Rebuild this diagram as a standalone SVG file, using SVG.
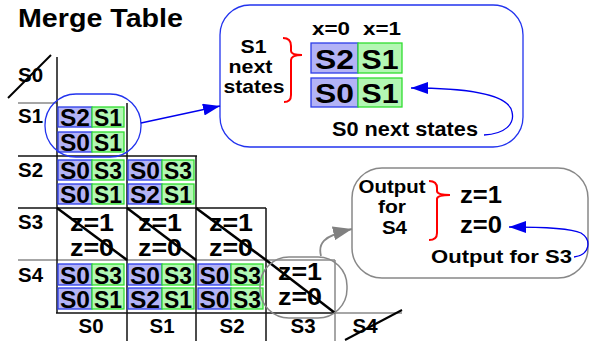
<svg xmlns="http://www.w3.org/2000/svg" width="589" height="341" viewBox="0 0 589 341">
<style>
.t{font-family:"Liberation Sans",Arial,sans-serif;font-weight:bold;fill:#000}
.m{text-anchor:middle}
.c{font-size:23px;text-anchor:middle}
.bc{fill:#b3b3f6;stroke:#2b3de8;stroke-width:1.3}
.gc{fill:#b3f7b3;stroke:#30dd30;stroke-width:1.3}
.gk{stroke:#111;stroke-width:1.5;fill:none}
.gg{stroke:#888;stroke-width:1.5;fill:none}
.dg{stroke:#000;stroke-width:2.5}
.br{fill:none;stroke:#f00;stroke-width:2}
.z{font-size:23px;text-anchor:middle}
</style>
<defs>
<marker id="ab" markerUnits="userSpaceOnUse" markerWidth="18" markerHeight="12" refX="17" refY="6" orient="auto"><path d="M0,0 L17,6 L0,12 z" fill="#0000ee"/></marker>
<marker id="ag" markerUnits="userSpaceOnUse" markerWidth="20" markerHeight="14" refX="19" refY="7" orient="auto"><path d="M0,0 L19,7 L0,14 z" fill="#808080"/></marker>
</defs>
<g id="title"><text class="t" x="18" y="27" font-size="25" textLength="165" lengthAdjust="spacingAndGlyphs">Merge Table</text></g>

<g id="grid">
<line class="gg" x1="18" y1="103" x2="57" y2="103"/>
<line class="gk" x1="18" y1="156" x2="197" y2="156"/>
<line class="gk" x1="18" y1="208" x2="266" y2="208"/>
<line class="gg" x1="18" y1="260" x2="335" y2="260"/>
<line class="gk" x1="56" y1="313" x2="335" y2="313"/>
<line class="gg" x1="335" y1="313" x2="402" y2="313"/>
<line class="gk" x1="57" y1="57" x2="57" y2="313"/>
<line class="gk" x1="127" y1="103" x2="127" y2="341"/>
<line class="gk" x1="196" y1="156" x2="196" y2="341"/>
<line class="gk" x1="266" y1="208" x2="266" y2="341"/>
<line class="gg" x1="335" y1="260" x2="335" y2="341"/>
<g font-size="21">
<text class="t" x="18" y="82" font-size="21" textLength="25" lengthAdjust="spacingAndGlyphs">S0</text>
<text class="t" x="18" y="123" font-size="21" textLength="25" lengthAdjust="spacingAndGlyphs">S1</text>
<text class="t" x="18" y="177" font-size="21" textLength="25" lengthAdjust="spacingAndGlyphs">S2</text>
<text class="t" x="18" y="229" font-size="21" textLength="25" lengthAdjust="spacingAndGlyphs">S3</text>
<text class="t" x="18" y="282" font-size="21" textLength="25" lengthAdjust="spacingAndGlyphs">S4</text>
<text class="t m" x="91" y="333" font-size="21" textLength="25" lengthAdjust="spacingAndGlyphs">S0</text>
<text class="t m" x="162" y="333" font-size="21" textLength="25" lengthAdjust="spacingAndGlyphs">S1</text>
<text class="t m" x="232" y="333" font-size="21" textLength="25" lengthAdjust="spacingAndGlyphs">S2</text>
<text class="t m" x="303" y="333" font-size="21" textLength="25" lengthAdjust="spacingAndGlyphs">S3</text>
<text class="t m" x="365" y="333" font-size="21" textLength="25" lengthAdjust="spacingAndGlyphs">S4</text>
</g>
<line x1="8" y1="98" x2="51" y2="55" stroke="#000" stroke-width="2"/>
<line x1="345" y1="340" x2="402" y2="310" stroke="#000" stroke-width="2"/>
</g>

<g id="cell-S1-S0">
<rect class="bc" x="58" y="107" width="34" height="20"/><rect class="gc" x="92" y="107" width="32" height="20"/>
<rect class="bc" x="58" y="132" width="34" height="20"/><rect class="gc" x="92" y="132" width="32" height="20"/>
<text class="t c" x="75" y="126" textLength="30" lengthAdjust="spacingAndGlyphs">S2</text><text class="t c" x="108" y="126" textLength="28" lengthAdjust="spacingAndGlyphs">S1</text>
<text class="t c" x="75" y="151" textLength="30" lengthAdjust="spacingAndGlyphs">S0</text><text class="t c" x="108" y="151" textLength="28" lengthAdjust="spacingAndGlyphs">S1</text>
<rect x="45" y="94" width="96" height="63" rx="31" fill="none" stroke="#2233ee" stroke-width="1.3"/>
</g>

<g id="cell-S2-S0">
<rect class="bc" x="58" y="160" width="34" height="20"/><rect class="gc" x="92" y="160" width="32" height="20"/>
<rect class="bc" x="58" y="184" width="34" height="20"/><rect class="gc" x="92" y="184" width="32" height="20"/>
<text class="t c" x="75" y="179" textLength="30" lengthAdjust="spacingAndGlyphs">S0</text><text class="t c" x="108" y="179" textLength="28" lengthAdjust="spacingAndGlyphs">S3</text>
<text class="t c" x="75" y="203" textLength="30" lengthAdjust="spacingAndGlyphs">S0</text><text class="t c" x="108" y="203" textLength="28" lengthAdjust="spacingAndGlyphs">S1</text>
</g>
<g id="cell-S2-S1">
<rect class="bc" x="128" y="160" width="34" height="20"/><rect class="gc" x="162" y="160" width="32" height="20"/>
<rect class="bc" x="128" y="184" width="34" height="20"/><rect class="gc" x="162" y="184" width="32" height="20"/>
<text class="t c" x="145" y="179" textLength="30" lengthAdjust="spacingAndGlyphs">S0</text><text class="t c" x="178" y="179" textLength="28" lengthAdjust="spacingAndGlyphs">S3</text>
<text class="t c" x="145" y="203" textLength="30" lengthAdjust="spacingAndGlyphs">S2</text><text class="t c" x="178" y="203" textLength="28" lengthAdjust="spacingAndGlyphs">S1</text>
</g>

<g id="cell-S3-S0"><text class="t z" x="92" y="231" textLength="44" lengthAdjust="spacingAndGlyphs">z=1</text><text class="t z" x="92" y="256" textLength="44" lengthAdjust="spacingAndGlyphs">z=0</text><line class="dg" x1="57" y1="208" x2="127" y2="260"/></g>
<g id="cell-S3-S1"><text class="t z" x="160" y="231" textLength="44" lengthAdjust="spacingAndGlyphs">z=1</text><text class="t z" x="160" y="256" textLength="44" lengthAdjust="spacingAndGlyphs">z=0</text><line class="dg" x1="127" y1="208" x2="196" y2="260"/></g>
<g id="cell-S3-S2"><text class="t z" x="231" y="231" textLength="44" lengthAdjust="spacingAndGlyphs">z=1</text><text class="t z" x="231" y="256" textLength="44" lengthAdjust="spacingAndGlyphs">z=0</text><line class="dg" x1="196" y1="208" x2="266" y2="260"/></g>

<g id="cell-S4-S0">
<rect class="bc" x="58" y="264" width="34" height="21"/><rect class="gc" x="92" y="264" width="32" height="21"/>
<rect class="bc" x="58" y="288" width="34" height="21"/><rect class="gc" x="92" y="288" width="32" height="21"/>
<text class="t c" x="75" y="284" textLength="30" lengthAdjust="spacingAndGlyphs">S0</text><text class="t c" x="108" y="284" textLength="28" lengthAdjust="spacingAndGlyphs">S3</text>
<text class="t c" x="75" y="308" textLength="30" lengthAdjust="spacingAndGlyphs">S0</text><text class="t c" x="108" y="308" textLength="28" lengthAdjust="spacingAndGlyphs">S1</text>
</g>
<g id="cell-S4-S1">
<rect class="bc" x="128" y="264" width="34" height="21"/><rect class="gc" x="162" y="264" width="32" height="21"/>
<rect class="bc" x="128" y="288" width="34" height="21"/><rect class="gc" x="162" y="288" width="32" height="21"/>
<text class="t c" x="145" y="284" textLength="30" lengthAdjust="spacingAndGlyphs">S0</text><text class="t c" x="178" y="284" textLength="28" lengthAdjust="spacingAndGlyphs">S3</text>
<text class="t c" x="145" y="308" textLength="30" lengthAdjust="spacingAndGlyphs">S2</text><text class="t c" x="178" y="308" textLength="28" lengthAdjust="spacingAndGlyphs">S1</text>
</g>
<g id="cell-S4-S2">
<rect class="bc" x="198" y="264" width="33" height="21"/><rect class="gc" x="231" y="264" width="32" height="21"/>
<rect class="bc" x="198" y="288" width="33" height="21"/><rect class="gc" x="231" y="288" width="32" height="21"/>
<text class="t c" x="214.5" y="284" textLength="30" lengthAdjust="spacingAndGlyphs">S0</text><text class="t c" x="247" y="284" textLength="28" lengthAdjust="spacingAndGlyphs">S3</text>
<text class="t c" x="214.5" y="308" textLength="30" lengthAdjust="spacingAndGlyphs">S0</text><text class="t c" x="247" y="308" textLength="28" lengthAdjust="spacingAndGlyphs">S3</text>
</g>
<g id="cell-S4-S3"><text class="t z" x="300" y="280" textLength="44" lengthAdjust="spacingAndGlyphs">z=1</text><text class="t z" x="300" y="305" textLength="44" lengthAdjust="spacingAndGlyphs">z=0</text><line class="dg" x1="266" y1="260" x2="335" y2="313"/>
<rect x="260" y="257" width="87" height="61" rx="29" fill="none" stroke="#888" stroke-width="1.5"/></g>

<g id="callout-S1">
<rect x="220" y="5" width="303" height="142" rx="30" fill="none" stroke="#2233ee" stroke-width="1.3"/>
<text class="t m" x="253.5" y="53" font-size="19" textLength="26" lengthAdjust="spacingAndGlyphs">S1</text>
<text class="t m" x="250.5" y="73" font-size="19" textLength="44" lengthAdjust="spacingAndGlyphs">next</text>
<text class="t m" x="254" y="93" font-size="19" textLength="61" lengthAdjust="spacingAndGlyphs">states</text>
<path class="br" d="M283,38 Q291,38 291,46 L291,51 Q291,55 302,55 Q291,55 291,60 L291,95 Q291,102 284,102"/>
<text class="t m" x="331" y="35" font-size="19" textLength="38" lengthAdjust="spacingAndGlyphs">x=0</text>
<text class="t m" x="382" y="35" font-size="19" textLength="38" lengthAdjust="spacingAndGlyphs">x=1</text>
<rect class="bc" x="311" y="43" width="47" height="30"/><rect class="gc" x="358" y="43" width="44" height="30"/>
<rect class="bc" x="311" y="78" width="47" height="29"/><rect class="gc" x="358" y="78" width="44" height="29"/>
<text class="t m" x="334.5" y="69" font-size="28" textLength="39" lengthAdjust="spacingAndGlyphs">S2</text>
<text class="t m" x="380" y="69" font-size="28" textLength="37" lengthAdjust="spacingAndGlyphs">S1</text>
<text class="t m" x="334.5" y="103" font-size="28" textLength="39" lengthAdjust="spacingAndGlyphs">S0</text>
<text class="t m" x="380" y="103" font-size="28" textLength="37" lengthAdjust="spacingAndGlyphs">S1</text>
<text class="t" x="332" y="136" font-size="19.5" textLength="146" lengthAdjust="spacingAndGlyphs">S0 next states</text>
</g>

<g id="callout-output">
<rect x="352" y="168" width="236" height="110" rx="30" fill="none" stroke="#888" stroke-width="1.5"/>
<text class="t m" x="392" y="193" font-size="18" textLength="67" lengthAdjust="spacingAndGlyphs">Output</text>
<text class="t m" x="392" y="213" font-size="18" textLength="28" lengthAdjust="spacingAndGlyphs">for</text>
<text class="t m" x="394.5" y="234" font-size="18" textLength="25" lengthAdjust="spacingAndGlyphs">S4</text>
<path class="br" d="M429,181 Q437,181 437,188 L437,191 Q437,195 450,195 Q437,195 437,199 L437,233 Q437,240 429,240"/>
<text class="t" x="460" y="203" font-size="23" textLength="42" lengthAdjust="spacingAndGlyphs">z=1</text>
<text class="t" x="460" y="233" font-size="23" textLength="42" lengthAdjust="spacingAndGlyphs">z=0</text>
<text class="t" x="431" y="263" font-size="19" textLength="141" lengthAdjust="spacingAndGlyphs">Output for S3</text>
</g>

<g id="connectors" fill="none">
<line x1="141" y1="123" x2="220" y2="106" stroke="#0000ee" stroke-width="1.3" marker-end="url(#ab)"/>
<path d="M484,135 C505,134 515,124 512,112 C509,95 470,88 411,88" stroke="#0000ee" stroke-width="1.3" marker-end="url(#ab)"/>
<path d="M574,257 C590,255 592,240 581,233 C570,228 545,227 509,227" stroke="#0000ee" stroke-width="1.3" marker-end="url(#ab)"/>
<path d="M321,256 C318,244 322,236 352,229" stroke="#888" stroke-width="1.8" marker-end="url(#ag)"/>
</g>
</svg>
